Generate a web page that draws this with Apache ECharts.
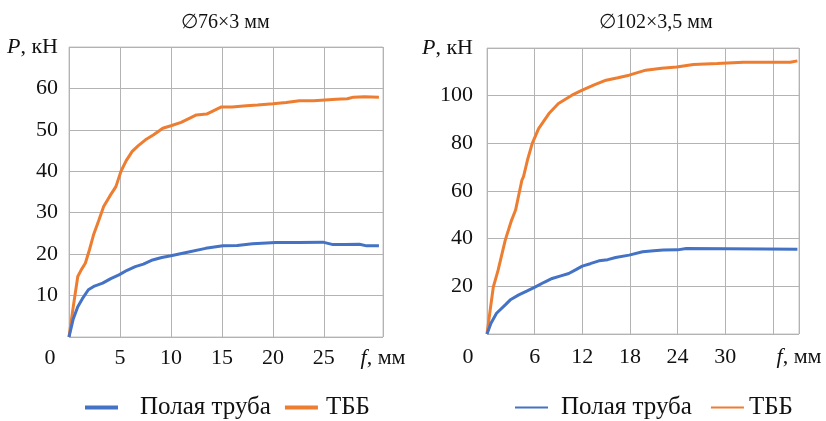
<!DOCTYPE html>
<html>
<head>
<meta charset="utf-8">
<script src="https://cdn.jsdelivr.net/npm/echarts@6/dist/echarts.min.js"></script>
<style>
  html, body { margin: 0; padding: 0; background: #fff; }
  #chart { width: 826px; height: 421px; }
</style>
</head>
<body>
<div id="chart"></div>
<script>
// load–deflection curves (f in mm, P in kN)
const seriesNames = ['Полая труба', 'ТББ'];
const titles = ['∅76×3 мм', '∅102×3,5 мм'];

// ∅76×3
const hollow76F = [0, 0.4, 0.86, 1.3, 1.9, 2.5, 3.3, 4.1, 4.9, 5.7, 6.5, 7.3, 8.2, 9.1, 10, 11.5, 13.4, 15.1, 16.5, 18, 20.3, 22.5, 24.9, 25.9, 27, 28.5, 29.2, 30.4];
const hollow76P = [0, 4.2, 7.3, 9.2, 11.4, 12.3, 13, 14.1, 15, 16.1, 17, 17.6, 18.6, 19.2, 19.6, 20.4, 21.4, 22, 22.1, 22.5, 22.8, 22.8, 22.9, 22.3, 22.3, 22.4, 22, 22];
const tbb76F = [0, 0.4, 0.86, 1.2, 1.6, 2.0, 2.4, 2.9, 3.4, 4.0, 4.6, 5.1, 5.6, 6.2, 6.8, 7.5, 8.3, 9.2, 10, 11, 12.5, 13.5, 14.9, 16, 17.4, 18.5, 20, 21.3, 22.6, 24, 26.2, 27.3, 27.9, 29, 30.4];
const tbb76P = [0, 7, 14.6, 16.2, 17.8, 21, 24.6, 28, 31.5, 34, 36.3, 40, 42.5, 44.8, 46.2, 47.6, 48.8, 50.4, 51, 51.8, 53.6, 53.8, 55.5, 55.5, 55.8, 56, 56.3, 56.6, 57, 57, 57.4, 57.5, 57.9, 58, 57.9];

// ∅102×3,5
const hollow102F = [0, 0.5, 1.2, 2.3, 3, 4, 5, 6.1, 7.2, 8.2, 9.3, 10.3, 11.2, 12, 13, 14.1, 15.2, 16.2, 17.9, 19.6, 21, 22.2, 24, 25.1, 30, 35, 39.1];
const hollow102P = [0, 4.5, 8.7, 12.2, 14.5, 16.4, 18, 19.8, 21.7, 23.3, 24.4, 25.4, 27, 28.5, 29.5, 30.7, 31.2, 32.1, 33.1, 34.5, 34.9, 35.2, 35.3, 35.9, 35.8, 35.7, 35.6];
const tbb102F = [0, 0.4, 0.8, 1.4, 2.3, 3.1, 3.6, 4.0, 4.4, 4.6, 5.1, 5.7, 6.5, 7.8, 9.0, 10.7, 12, 13.5, 15, 16.5, 17.9, 20, 22, 23.9, 26, 29, 32.3, 35, 38.2, 39.1];
const tbb102P = [0, 10, 19.8, 26.8, 39.4, 47.8, 52, 58.3, 64.6, 66, 73, 80, 86.2, 92.5, 96.7, 100.2, 102.3, 104.5, 106.5, 107.5, 108.6, 110.7, 111.5, 112, 113.1, 113.5, 114, 114, 114, 114.6];

// axes: gridlines at the ticks, labels only on the labelled ones
const xTicks76 = [0, 5, 10, 15, 20, 25];
const xLabels76 = [0, 5, 10, 15, 20, 25];
const xMax76 = 30.8;
const yMax76 = 70, yStep76 = 10;
const xTicks102 = [0, 6, 12, 18, 24, 30, 36];
const xLabels102 = [0, 6, 12, 18, 24, 30];
const xMax102 = 39.3;
const yMax102 = 120, yStep102 = 20;

const BLUE = '#4472c4';
const ORANGE = '#ed7d31';
const GRID_LINE = '#b3b3b3';
const FONT = '"Liberation Serif", "Times New Roman", "DejaVu Serif", serif';
const FS = 22;
const LEGEND_FS = 25;

const zip = (xs, ys) => xs.map((x, i) => [x, ys[i]]);

const rich = {
  i: { fontFamily: FONT, fontSize: FS, fontStyle: 'italic', color: '#111' },
  t: { fontFamily: FONT, fontSize: FS, color: '#111' },
  o: { fontFamily: FONT, fontSize: FS, color: '#111', padding: [0, 38, 0, 0] },
};

function xAxis(gridIndex, ticks, labels, max, margin) {
  const vals = ticks.concat([max]);
  return {
    type: 'value',
    gridIndex,
    min: 0,
    max,
    axisLine: { show: false },
    axisTick: { show: false, customValues: vals },
    splitLine: { lineStyle: { color: GRID_LINE, width: 1 } },
    axisLabel: {
      customValues: labels.concat([max]),
      showMaxLabel: true,
      hideOverlap: false,
      margin,
      color: '#111',
      fontFamily: FONT,
      fontSize: FS,
      rich,
      formatter: (v) => (v === 0 ? '{o|0}' : v === max ? '{i|f}{t|, мм}' : String(v)),
    },
  };
}

function yAxis(gridIndex, max, step, margin) {
  return {
    type: 'value',
    gridIndex,
    min: 0,
    max,
    interval: step,
    axisLine: { show: false },
    axisTick: { show: false },
    splitLine: { lineStyle: { color: GRID_LINE, width: 1 } },
    axisLabel: {
      margin,
      color: '#111',
      fontFamily: FONT,
      fontSize: FS,
      rich,
      formatter: (v) => (v === 0 ? '' : v === max ? '{i|P}{t|, кН}' : String(v)),
    },
  };
}

function line(name, color, data, idx, width) {
  return {
    name,
    type: 'line',
    xAxisIndex: idx,
    yAxisIndex: idx,
    data,
    showSymbol: false,
    symbol: 'none',
    lineStyle: { color, width },
    itemStyle: { color },
    z: name === seriesNames[0] ? 3 : 2,
  };
}

// pads: gap between each icon and its text
function legend(left, iconH, itemGap, pads) {
  return {
    left,
    top: 390,
    icon: 'rect',
    itemWidth: 33,
    itemHeight: iconH,
    itemGap,
    data: seriesNames.map((name, i) => ({ name, textStyle: { padding: [0, 0, 0, pads[i]] } })),
    selectedMode: false,
    textStyle: { fontFamily: FONT, fontSize: LEGEND_FS, color: '#111' },
  };
}

const option = {
  animation: false,
  backgroundColor: '#ffffff',
  title: [
    { text: titles[0], left: 176, top: 8, textStyle: { fontFamily: FONT, fontSize: 20, fontWeight: 'normal', color: '#111' } },
    { text: titles[1], left: 594, top: 8, textStyle: { fontFamily: FONT, fontSize: 20, fontWeight: 'normal', color: '#111' } },
  ],
  grid: [
    { left: 69, top: 47, width: 314, height: 290, show: true, borderColor: '#c4c4c4', borderWidth: 1 },
    { left: 487, top: 48, width: 312, height: 286, show: true, borderColor: '#c4c4c4', borderWidth: 1 },
  ],
  xAxis: [xAxis(0, xTicks76, xLabels76, xMax76, 10), xAxis(1, xTicks102, xLabels102, xMax102, 12)],
  yAxis: [yAxis(0, yMax76, yStep76, 11), yAxis(1, yMax102, yStep102, 14)],
  legend: [legend(80, 4, 14, [17, 3]), legend(510, 2, 19, [8, 0])],
  series: [
    line(seriesNames[0], BLUE, zip(hollow76F, hollow76P), 0, 3),
    line(seriesNames[1], ORANGE, zip(tbb76F, tbb76P), 0, 3),
    line(seriesNames[0], BLUE, zip(hollow102F, hollow102P), 1, 3),
    line(seriesNames[1], ORANGE, zip(tbb102F, tbb102P), 1, 3),
  ],
};

const chart = echarts.init(document.getElementById('chart'), null, { renderer: 'canvas' });
chart.setOption(option);
</script>
</body>
</html>
